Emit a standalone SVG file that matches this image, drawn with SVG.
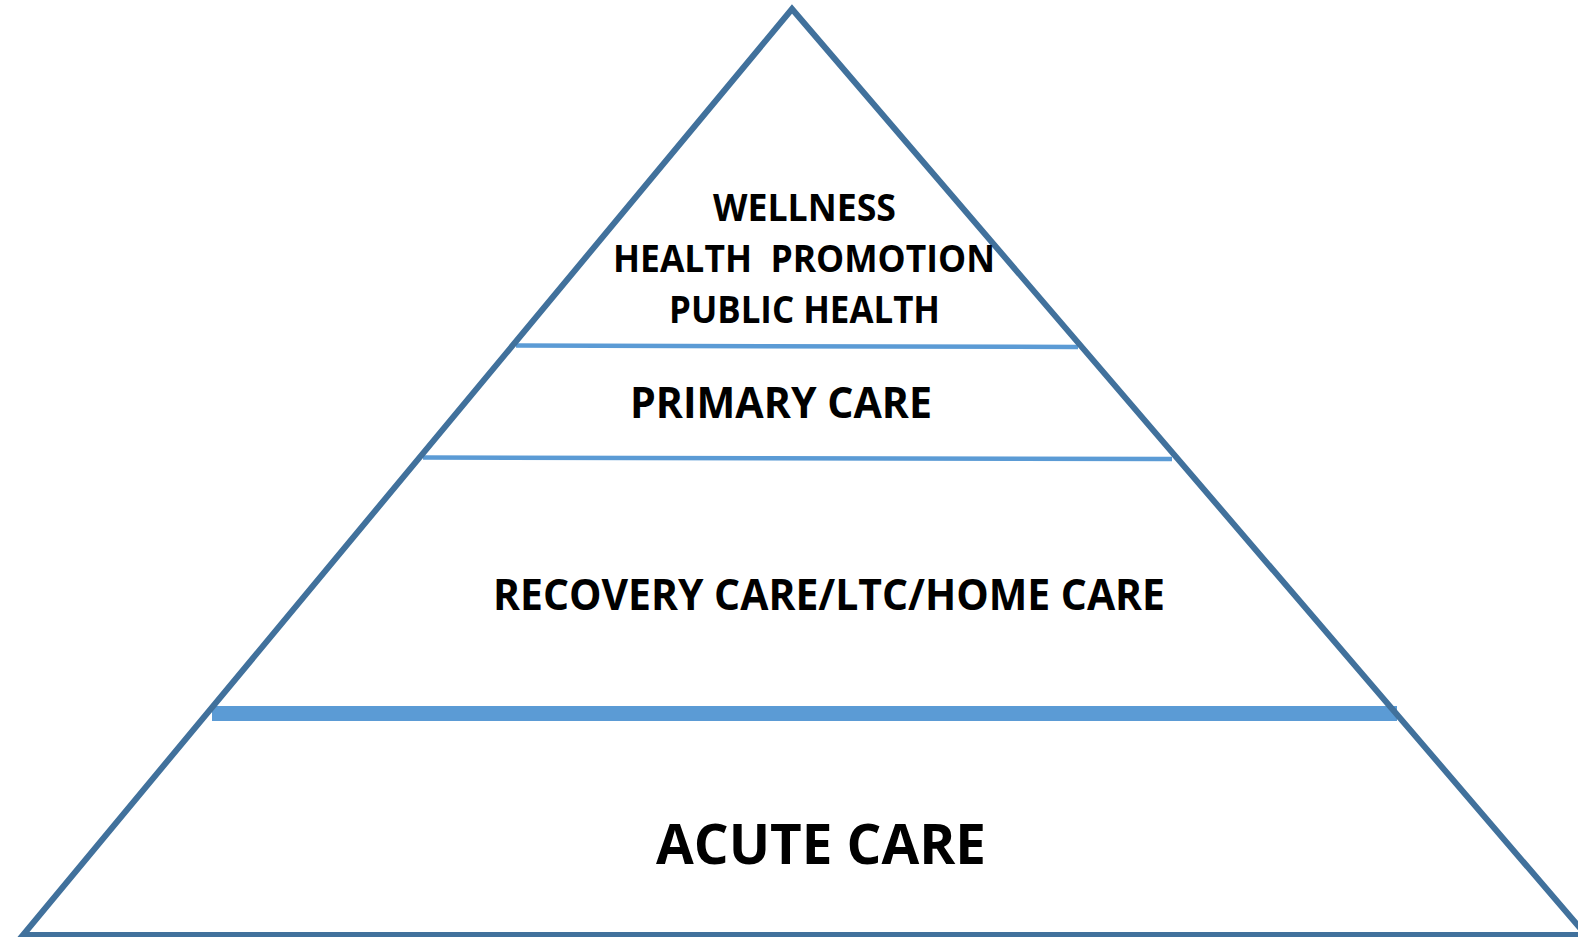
<svg xmlns="http://www.w3.org/2000/svg" width="1578" height="937" viewBox="0 0 1578 937">
<style>
.t{font-family:"Open Sans","Liberation Sans",sans-serif;font-weight:700;fill:#000;}
.sep{stroke:#5B9BD5;fill:none;}
.tri{stroke:#41719C;stroke-width:6;fill:none;stroke-linejoin:miter;}
</style>
<rect width="1578" height="937" fill="#fff"/>
<g id="connectors">
<line class="sep" x1="516" y1="345.5" x2="1078" y2="347" stroke-width="4.5"/>
<line class="sep" x1="423" y1="457.5" x2="1172" y2="459" stroke-width="4.5"/>
<line class="sep" x1="212" y1="713.5" x2="1397" y2="713.5" stroke-width="15"/>
</g>
<g id="pyramid">
<polygon class="tri" points="792,9 23,935 1586,935"/>
</g>
<g id="tier-wellness">
<text class="t" x="713" y="221" font-size="38" textLength="183" lengthAdjust="spacingAndGlyphs">WELLNESS</text>
<text class="t" x="613" y="272" font-size="38" textLength="382" lengthAdjust="spacingAndGlyphs" xml:space="preserve">HEALTH  PROMOTION</text>
<text class="t" x="669" y="323" font-size="38" textLength="271" lengthAdjust="spacingAndGlyphs">PUBLIC HEALTH</text>
</g>
<g id="tier-primary">
<text class="t" x="630" y="418" font-size="42.5" textLength="302" lengthAdjust="spacingAndGlyphs">PRIMARY CARE</text>
</g>
<g id="tier-recovery">
<text class="t" x="493" y="610" font-size="42.5" textLength="672" lengthAdjust="spacingAndGlyphs">RECOVERY CARE/LTC/HOME CARE</text>
</g>
<g id="tier-acute">
<text class="t" x="656" y="864" font-size="56" textLength="330" lengthAdjust="spacingAndGlyphs">ACUTE CARE</text>
</g>
</svg>
